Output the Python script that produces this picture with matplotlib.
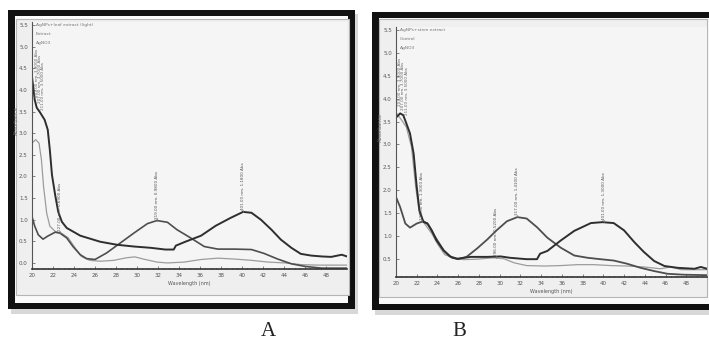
import matplotlib.pyplot as plt
from matplotlib.patches import Rectangle

W, H = 709, 349

# x in units of 10 nm (axis reads 20 ... 48), y is absorbance
# ---- panel A ----
a_dark_x = [20.0, 20.26, 20.45, 20.74, 21.2, 21.5, 21.7, 21.9, 22.2, 22.5, 22.85, 23.3, 24.6, 26.5,
            28.1, 29.7, 31.3, 32.7, 33.5, 33.7, 34.6, 36.1, 37.5, 38.9, 40.1, 40.9, 41.8, 42.8,
            43.7, 44.7, 45.6, 46.6, 47.6, 48.5, 49.5, 50.0]
a_dark_y = [4.30, 3.77, 3.59, 3.49, 3.31, 3.08, 2.61, 2.04, 1.58, 1.18, 0.95, 0.81, 0.63, 0.49,
            0.42, 0.38, 0.35, 0.31, 0.31, 0.40, 0.49, 0.63, 0.86, 1.04, 1.18, 1.16, 1.00, 0.77,
            0.54, 0.35, 0.21, 0.17, 0.15, 0.14, 0.19, 0.15]
a_mid_x = [20.0, 20.26, 20.6, 21.05, 21.5, 22.2, 22.65, 23.3, 23.9, 24.6, 25.2, 26.0, 27.1, 28.4,
           29.7, 31.0, 31.9, 32.9, 33.8, 35.1, 36.4, 37.7, 39.3, 40.9, 42.1, 43.4, 44.7, 46.0,
           47.6, 50.0]
a_mid_y = [1.07, 0.85, 0.65, 0.55, 0.62, 0.71, 0.69, 0.58, 0.38, 0.19, 0.10, 0.08, 0.23, 0.46,
           0.69, 0.91, 0.98, 0.94, 0.77, 0.58, 0.38, 0.32, 0.32, 0.31, 0.22, 0.09, -0.02, -0.08,
           -0.12, -0.12]
a_light_x = [20.0, 20.35, 20.67, 20.9, 21.1, 21.4, 21.7, 22.2, 22.8, 23.45, 24.1, 24.7, 25.5, 26.5,
             27.8, 29.0, 29.8, 30.6, 31.9, 32.9, 34.5, 36.1, 37.7, 39.3, 40.9, 42.5, 44.1, 45.7,
             47.3, 50.0]
a_light_y = [2.77, 2.85, 2.77, 2.38, 1.77, 1.15, 0.85, 0.73, 0.69, 0.58, 0.35, 0.15, 0.06, 0.04,
             0.06, 0.12, 0.14, 0.09, 0.02, 0.00, 0.02, 0.08, 0.11, 0.09, 0.06, 0.02, 0.00, -0.04,
             -0.05, -0.05]
a_peaks = [(22.7, 0.69, 2.46), (31.9, 0.98, 2.73), (40.1, 1.18, 2.92)]
a_legend = ["AgNPs+leaf extract (light)", "Extract", "AgNO3"]

# ---- panel B ----
b_dark_x = [20.06, 20.4, 20.7, 21.0, 21.35, 21.7, 22.0, 22.26, 22.65, 23.0, 23.45, 23.9, 24.6, 25.2,
            25.9, 27.2, 28.8, 30.1, 31.0, 32.6, 33.6, 33.9, 34.6, 35.9, 37.2, 38.8, 39.9, 41.0,
            42.0, 43.0, 43.9, 44.9, 45.9, 47.2, 48.8, 49.4, 50.0]
b_dark_y = [3.60, 3.68, 3.64, 3.46, 3.24, 2.80, 2.07, 1.56, 1.30, 1.28, 1.12, 0.90, 0.68, 0.55,
            0.50, 0.54, 0.54, 0.55, 0.52, 0.49, 0.49, 0.61, 0.67, 0.90, 1.11, 1.28, 1.30, 1.28,
            1.12, 0.86, 0.65, 0.45, 0.34, 0.30, 0.28, 0.32, 0.28]
b_mid_x = [20.0, 20.4, 20.9, 21.35, 22.0, 22.65, 23.1, 23.8, 24.6, 25.4, 26.0, 26.8, 27.8, 28.8,
           29.7, 30.7, 31.7, 32.6, 33.6, 34.6, 35.9, 37.2, 38.5, 39.7, 41.0, 42.3, 43.6, 44.9,
           46.2, 47.8, 50.0]
b_mid_y = [1.85, 1.63, 1.27, 1.18, 1.27, 1.32, 1.25, 0.97, 0.68, 0.52, 0.49, 0.54, 0.72, 0.92,
           1.12, 1.32, 1.41, 1.38, 1.19, 0.96, 0.74, 0.57, 0.52, 0.49, 0.46, 0.39, 0.30, 0.23,
           0.17, 0.15, 0.14]
b_light_x = [20.06, 20.55, 21.0, 21.5, 21.9, 22.26, 22.8, 23.45, 24.1, 24.7, 25.5, 26.5, 27.8, 29.4,
             30.4, 31.4, 32.6, 34.3, 35.9, 37.5, 39.1, 40.7, 42.3, 43.9, 45.5, 46.5, 47.5, 50.0]
b_light_y = [3.68, 3.53, 3.38, 2.94, 2.07, 1.49, 1.25, 1.05, 0.79, 0.59, 0.52, 0.48, 0.49, 0.52,
             0.50, 0.41, 0.35, 0.34, 0.35, 0.37, 0.37, 0.35, 0.34, 0.32, 0.28, 0.32, 0.26, 0.26]
b_peaks = [(22.5, 1.30, 2.95), (29.6, 0.52, 2.22), (31.7, 1.41, 3.05), (40.1, 1.30, 2.95)]
b_legend = ["AgNPs+stem extract", "Control", "AgNO3"]

x_ticks = list(range(20, 50, 2))
y_ticks = [i * 0.5 for i in range(12)]

DARK, MID, LIGHT = "#2e2e2e", "#4e4e4e", "#9c9c9c"

fig = plt.figure(figsize=(W / 100, H / 100), dpi=100)
fig.patch.set_facecolor("white")


def frect(x0, y0, x1, y1, **kw):
    r = Rectangle((x0 / W, 1 - y1 / H), (x1 - x0) / W, (y1 - y0) / H,
                  transform=fig.transFigure, zorder=-2, **kw)
    fig.add_artist(r)


def frame(x0, y0, x1, y1, px0, py0, px1, py1):
    frect(x0 + 3, y0 + 4, x1 + 3, y1 + 5, facecolor="#d8d8d8", edgecolor="none")
    frect(x0, y0, x1, y1, facecolor="#111111", edgecolor="none")
    frect(x0 + 7, y0 + 6, x1 - 7, y1 - 6, facecolor="#fafafa", edgecolor="none")
    frect(px0, py0, px1, py1, facecolor="#efefef", edgecolor="#b5b5b5", linewidth=0.8)


frame(8, 10, 355, 309, 16, 19, 349, 295)
frame(372, 12, 722, 310, 379, 19, 707, 297)


def panel(box, ylim, curves, peaks, legend, left_tops):
    x0, y0, x1, y1 = box
    ax = fig.add_axes([x0 / W, 1 - y1 / H, (x1 - x0) / W, (y1 - y0) / H])
    ax.set_facecolor("#f5f5f5")
    for xs, ys, c, lw in curves:
        ax.plot(xs, ys, color=c, lw=lw, solid_joinstyle="round")
    ax.set_xlim(20, 50)
    ax.set_ylim(*ylim)
    ax.set_xticks(x_ticks)
    ax.set_xticklabels([str(t) for t in x_ticks])
    ax.set_xticks([20 + 0.5 * i for i in range(60)], minor=True)
    ax.set_yticks([t for t in y_ticks if ylim[0] <= t <= ylim[1]])
    ax.set_yticklabels([f"{t:.1f}" for t in y_ticks if ylim[0] <= t <= ylim[1]])
    ax.tick_params(labelsize=4, colors="#555555", length=2, width=0.5, direction="in", pad=3)
    ax.tick_params(which="minor", length=1, width=0.4, direction="in")
    for s in ["top", "right"]:
        ax.spines[s].set_visible(False)
    ax.spines["left"].set_color("#555555")
    ax.spines["bottom"].set_color("#333333")
    ax.spines["bottom"].set_linewidth(1.2)
    ax.set_xlabel("Wavelength (nm)", fontsize=3.5, color="#555555", labelpad=2)
    ax.set_ylabel("Absorbance", fontsize=3.5, color="#666666", labelpad=1)
    ax.yaxis.set_label_coords(-0.042, 0.6)

    for px, yb, yt in peaks:
        ax.text(px, yb + 0.04, f"{px * 10:.2f} nm, {yb:.4f} Abs", rotation=90, fontsize=3,
                color="#555555", ha="center", va="bottom")
        ax.plot([px, px], [yb, yb + 0.05], color="#777777", lw=0.5)
    for i, (lx, ly) in enumerate(left_tops):
        ax.text(lx, ly, f"{200 + 4 * i + 3:.2f} nm, {3.9 - 0.2 * i:.4f} Abs", rotation=90,
                fontsize=3, color="#666666", ha="center", va="top")
    for i, name in enumerate(legend):
        ax.text(0.012, 0.995 - i * 0.035, name, transform=ax.transAxes, fontsize=3.2,
                color="#777777", va="top", ha="left")
    return ax


panel((32, 22, 347, 269), (-0.14, 5.57),
      [(a_light_x, a_light_y, LIGHT, 0.9), (a_mid_x, a_mid_y, MID, 1.2),
       (a_dark_x, a_dark_y, DARK, 1.4)],
      a_peaks, a_legend, [(20.45, 4.95), (20.75, 4.8), (21.05, 4.65)])

panel((396, 27, 707, 277), (0.10, 5.57),
      [(b_light_x, b_light_y, LIGHT, 0.9), (b_mid_x, b_mid_y, MID, 1.3),
       (b_dark_x, b_dark_y, DARK, 1.4)],
      b_peaks, b_legend, [(20.35, 4.9), (20.7, 4.8), (21.05, 4.7)])

fig.text(268 / W, 1 - 331 / H, "A", fontsize=15, family="Liberation Serif",
         ha="center", va="center", color="#222222")
fig.text(459 / W, 1 - 331 / H, "B", fontsize=15, family="Liberation Serif",
         ha="center", va="center", color="#222222")

fig.savefig("out.png", dpi=100)
